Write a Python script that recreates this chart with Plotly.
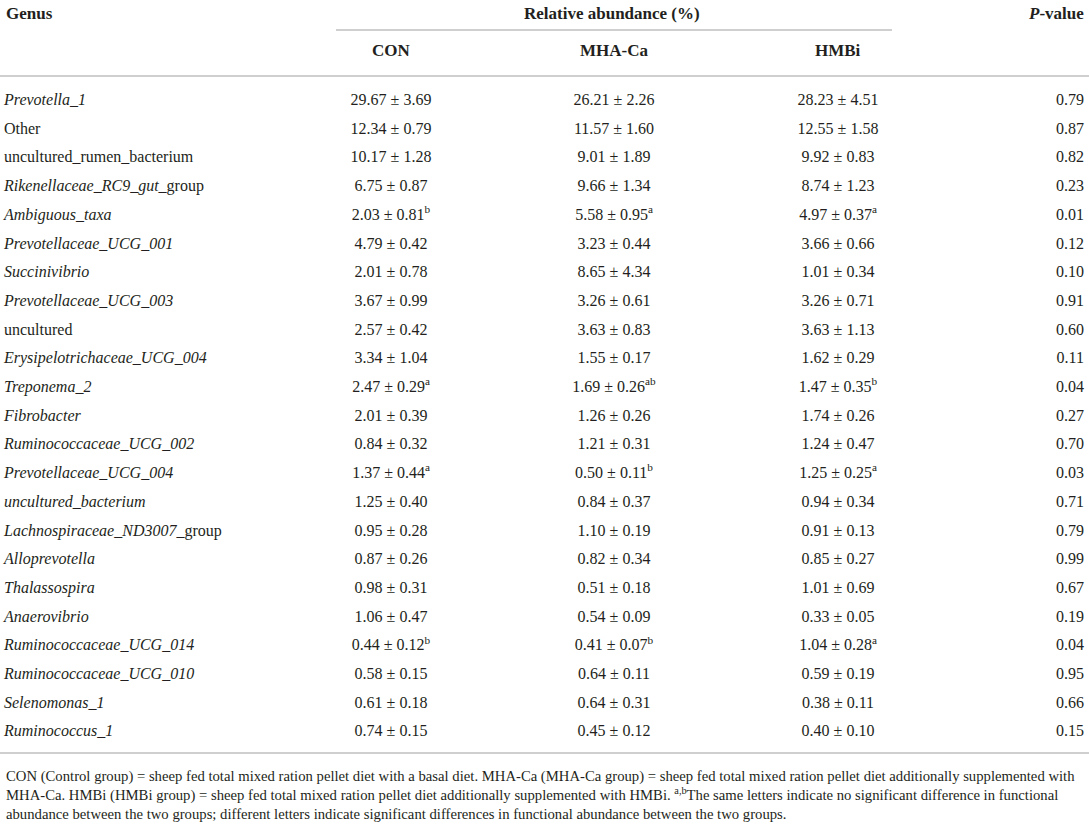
import plotly.graph_objects as go

# Genus-level relative abundance (%) of rumen bacteria, mean ± SE
genus = ["Prevotella_1", "Other", "uncultured_rumen_bacterium", "Rikenellaceae_RC9_gut_group",
         "Ambiguous_taxa", "Prevotellaceae_UCG_001", "Succinivibrio", "Prevotellaceae_UCG_003",
         "uncultured", "Erysipelotrichaceae_UCG_004", "Treponema_2", "Fibrobacter",
         "Ruminococcaceae_UCG_002", "Prevotellaceae_UCG_004", "uncultured_bacterium",
         "Lachnospiraceae_ND3007_group", "Alloprevotella", "Thalassospira", "Anaerovibrio",
         "Ruminococcaceae_UCG_014", "Ruminococcaceae_UCG_010", "Selenomonas_1", "Ruminococcus_1"]
italic = [1, 0, 0, 1, 1, 1, 1, 1, 0, 1, 1, 1, 1, 1, 1, 1, 1, 1, 1, 1, 1, 1, 1]

con_mean = [29.67, 12.34, 10.17, 6.75, 2.03, 4.79, 2.01, 3.67, 2.57, 3.34, 2.47, 2.01,
            0.84, 1.37, 1.25, 0.95, 0.87, 0.98, 1.06, 0.44, 0.58, 0.61, 0.74]
con_sd = [3.69, 0.79, 1.28, 0.87, 0.81, 0.42, 0.78, 0.99, 0.42, 1.04, 0.29, 0.39,
          0.32, 0.44, 0.40, 0.28, 0.26, 0.31, 0.47, 0.12, 0.15, 0.18, 0.15]
con_sig = ["", "", "", "", "b", "", "", "", "", "", "a", "",
           "", "a", "", "", "", "", "", "b", "", "", ""]

mha_mean = [26.21, 11.57, 9.01, 9.66, 5.58, 3.23, 8.65, 3.26, 3.63, 1.55, 1.69, 1.26,
            1.21, 0.50, 0.84, 1.10, 0.82, 0.51, 0.54, 0.41, 0.64, 0.64, 0.45]
mha_sd = [2.26, 1.60, 1.89, 1.34, 0.95, 0.44, 4.34, 0.61, 0.83, 0.17, 0.26, 0.26,
          0.31, 0.11, 0.37, 0.19, 0.34, 0.18, 0.09, 0.07, 0.11, 0.31, 0.12]
mha_sig = ["", "", "", "", "a", "", "", "", "", "", "ab", "",
           "", "b", "", "", "", "", "", "b", "", "", ""]

hmbi_mean = [28.23, 12.55, 9.92, 8.74, 4.97, 3.66, 1.01, 3.26, 3.63, 1.62, 1.47, 1.74,
             1.24, 1.25, 0.94, 0.91, 0.85, 1.01, 0.33, 1.04, 0.59, 0.38, 0.40]
hmbi_sd = [4.51, 1.58, 0.83, 1.23, 0.37, 0.66, 0.34, 0.71, 1.13, 0.29, 0.35, 0.26,
           0.47, 0.25, 0.34, 0.13, 0.27, 0.69, 0.05, 0.28, 0.19, 0.11, 0.10]
hmbi_sig = ["", "", "", "", "a", "", "", "", "", "", "b", "",
            "", "a", "", "", "", "", "", "a", "", "", ""]

p_value = [0.79, 0.87, 0.82, 0.23, 0.01, 0.12, 0.10, 0.91, 0.60, 0.11, 0.04, 0.27,
           0.70, 0.03, 0.71, 0.79, 0.99, 0.67, 0.19, 0.04, 0.95, 0.66, 0.15]

groups = ["CON", "MHA-Ca", "HMBi"]

nota = ("CON (Control group) = sheep fed total mixed ration pellet diet with a basal diet. MHA-Ca (MHA-Ca group) = sheep fed total mixed ration pellet diet additionally supplemented with<br>"
        "MHA-Ca. HMBi (HMBi group) = sheep fed total mixed ration pellet diet additionally supplemented with HMBi. <sup>a,b</sup>The same letters indicate no significant difference in functional<br>"
        "abundance between the two groups; different letters indicate significant differences in functional abundance between the two groups.")

FUENTE = "Liberation Serif, Times New Roman, serif"
NEGRO = "#231f20"
GRIS = "#cfcfcf"

W, H = 1089, 824
FILA0, PASO = 101, 28.7   # posicion (px) de la primera fila y separacion


def fila(px):
    # pasa una altura en pixeles a la escala de filas del eje y
    return (px - FILA0) / PASO


def etiqueta(nombre, it):
    if not it:
        return nombre
    if nombre.endswith("_group"):
        return "<i>" + nombre[:-6] + "</i>_group"
    return "<i>" + nombre + "</i>"


def celda(m, s, sig):
    txt = f"{m:.2f} ± {s:.2f}"
    if sig:
        txt += f"<sup>{sig}</sup>"
    return txt


filas = list(range(len(genus)))
col_x = {"genus": 4, "CON": 391, "MHA-Ca": 614, "HMBi": 838, "p": 1084}

fig = go.Figure()

fig.add_trace(go.Scatter(
    x=[col_x["genus"]] * len(genus), y=filas, mode="text",
    text=[etiqueta(g, i) for g, i in zip(genus, italic)],
    textposition="middle right", textfont=dict(family=FUENTE, size=16, color=NEGRO),
    hoverinfo="skip", cliponaxis=False))

for grupo, med, sd, sig in [("CON", con_mean, con_sd, con_sig),
                            ("MHA-Ca", mha_mean, mha_sd, mha_sig),
                            ("HMBi", hmbi_mean, hmbi_sd, hmbi_sig)]:
    fig.add_trace(go.Scatter(
        x=[col_x[grupo]] * len(med), y=filas, mode="text",
        text=[celda(m, s, g) for m, s, g in zip(med, sd, sig)],
        textposition="middle center", textfont=dict(family=FUENTE, size=16, color=NEGRO),
        hoverinfo="skip", cliponaxis=False))

fig.add_trace(go.Scatter(
    x=[col_x["p"]] * len(p_value), y=filas, mode="text",
    text=[f"{p:.2f}" for p in p_value],
    textposition="middle left", textfont=dict(family=FUENTE, size=16, color=NEGRO),
    hoverinfo="skip", cliponaxis=False))

# Encabezados
cab = dict(family=FUENTE, size=17, color=NEGRO)
fig.add_annotation(x=4, y=fila(13), text="<b>Genus</b>", xanchor="left", showarrow=False, font=cab)
fig.add_annotation(x=612, y=fila(13), text="<b>Relative abundance (%)</b>", xanchor="center", showarrow=False, font=cab)
fig.add_annotation(x=1086, y=fila(13), text="<b><i>P</i>-value</b>", xanchor="right", showarrow=False, font=cab)
for g in groups:
    fig.add_annotation(x=col_x[g], y=fila(50), text=f"<b>{g}</b>", xanchor="center", showarrow=False, font=cab)

# Lineas de la tabla
fig.add_shape(type="line", x0=336, x1=892, y0=fila(30), y1=fila(30), line=dict(color=GRIS, width=2))
fig.add_shape(type="line", x0=0, x1=W, y0=fila(76), y1=fila(76), line=dict(color=GRIS, width=2))
fig.add_shape(type="line", x0=0, x1=W, y0=fila(753), y1=fila(753), line=dict(color=GRIS, width=2))

# Nota al pie
fig.add_annotation(x=4, y=fila(795), text=nota, xanchor="left", yanchor="middle", align="left",
                   showarrow=False, font=dict(family=FUENTE, size=14.7, color=NEGRO))

fig.update_layout(
    width=W, height=H, margin=dict(l=0, r=0, t=0, b=0),
    plot_bgcolor="white", paper_bgcolor="white", showlegend=False,
    xaxis=dict(range=[0, W], visible=False, fixedrange=True),
    yaxis=dict(range=[fila(H), fila(0)], visible=False, fixedrange=True),
)

fig.write_html("out.html", config={"displayModeBar": False},
               post_script="document.body.style.margin='0';")
